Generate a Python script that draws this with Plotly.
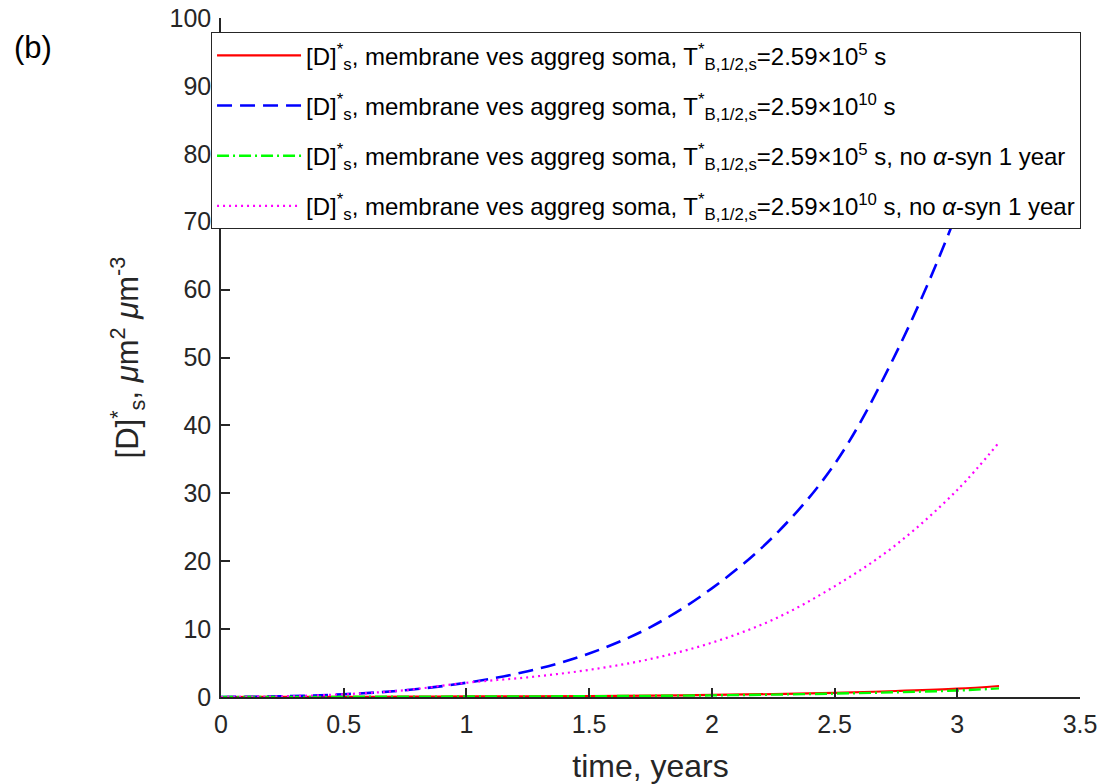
import plotly.graph_objects as go

# time, years
t = [0.0, 0.25, 0.5, 0.75, 1.0, 1.25, 1.5, 1.75, 2.0, 2.25, 2.5, 2.75, 3.0, 3.17]

# [D]*_s in um^2 um^-3 for each scenario
d_fast = [0.0, 0.01, 0.03, 0.05, 0.08, 0.11, 0.15, 0.21, 0.3, 0.43, 0.62, 0.88, 1.22, 1.62]
d_slow = [0.0, 0.1, 0.4, 1.0, 2.1, 3.8, 6.4, 10.3, 16.0, 23.6, 34.3, 50.6, 71.5, 90.0]
d_fast_stop = [0.0, 0.01, 0.03, 0.05, 0.07, 0.09, 0.12, 0.17, 0.24, 0.35, 0.5, 0.7, 0.95, 1.27]
d_slow_stop = [0.0, 0.1, 0.4, 1.0, 2.1, 2.9, 4.0, 5.6, 8.0, 11.4, 16.3, 22.4, 30.5, 37.5]

x_ticks = [0, 0.5, 1, 1.5, 2, 2.5, 3, 3.5]
y_ticks = [0, 10, 20, 30, 40, 50, 60, 70, 80, 90, 100]

lead = "[D]<sup>*</sup><sub>s</sub>, membrane ves aggreg soma, T<sup>*</sup><sub>B,1/2,s</sub>=2.59×10"
names = [
    lead + "<sup>5</sup> s",
    lead + "<sup>10</sup> s",
    lead + "<sup>5</sup> s, no <i>α</i>-syn 1 year",
    lead + "<sup>10</sup> s, no <i>α</i>-syn 1 year",
]
series = [d_fast, d_slow, d_fast_stop, d_slow_stop]
colors = ["#ff0000", "#0000ff", "#00ff00", "#ff00ff"]
dashes = ["solid", "15px,8px", "12px,4px,2px,4px", "2px,4px"]
widths = [2.2, 2.6, 2.4, 2.2]

fig = go.Figure()
for i, (name, y, c, d, w) in enumerate(zip(names, series, colors, dashes, widths)):
    fig.add_trace(go.Scatter(
        x=t, y=y, mode="lines", name=name, legendgroup=f"g{i}",
        line=dict(color=c, width=w, dash=d, shape="spline", smoothing=1.0),
    ))

axis_color = "#262626"
font_family = "Liberation Sans, Arial, sans-serif"

fig.update_layout(
    width=1102, height=784,
    margin=dict(l=221, r=22, t=18, b=87),
    paper_bgcolor="white", plot_bgcolor="white",
    font=dict(family=font_family, color=axis_color),
    showlegend=True,
    legend=dict(
        x=-0.0116, y=0.979, xanchor="left", yanchor="top",
        bgcolor="white", bordercolor=axis_color, borderwidth=1,
        font=dict(size=24, color="black"),
        itemwidth=84, tracegroupgap=16,
    ),
    xaxis=dict(
        range=[0, 3.5], tickvals=x_ticks, ticktext=[f"{v:g}" for v in x_ticks],
        showline=True, linecolor=axis_color, linewidth=1.5,
        ticks="inside", ticklen=9, tickwidth=1.5, tickcolor=axis_color,
        showgrid=False, zeroline=False, automargin=False,
        tickfont=dict(size=25, color=axis_color), ticklabelstandoff=4,
        title=dict(text="time, years", font=dict(size=32, color=axis_color), standoff=20),
    ),
    yaxis=dict(
        range=[0, 100], tickvals=y_ticks, ticktext=[str(v) for v in y_ticks],
        showline=True, linecolor=axis_color, linewidth=1.5,
        ticks="inside", ticklen=9, tickwidth=1.5, tickcolor=axis_color,
        showgrid=False, zeroline=False, automargin=False,
        tickfont=dict(size=25, color=axis_color), ticklabelstandoff=3,
    ),
    annotations=[
        dict(
            text="(b)", xref="paper", yref="paper", x=-0.2189, y=0.956,
            xanchor="center", yanchor="middle", showarrow=False,
            font=dict(size=31, color="black"),
        ),
        dict(
            text="[D]<sup>*</sup><sub>s</sub>, <i>μ</i>m<sup>2</sup> <i>μ</i>m<sup>-3</sup>",
            xref="paper", yref="paper", x=-0.1083, y=0.50, textangle=-90,
            xanchor="center", yanchor="middle", showarrow=False,
            font=dict(size=31, color=axis_color),
        ),
    ],
)

fig.write_html("out.html")
